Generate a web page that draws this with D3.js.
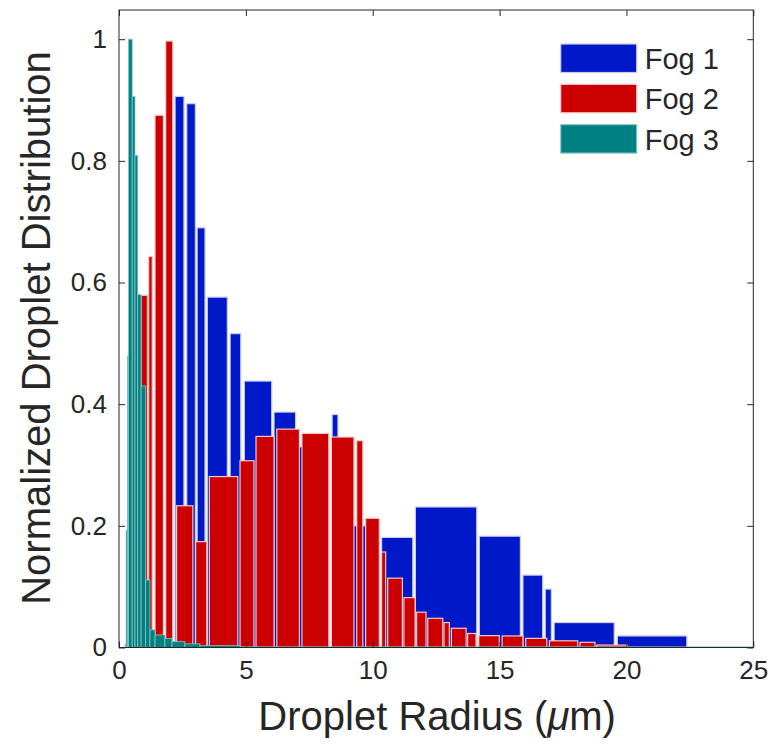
<!DOCTYPE html>
<html>
<head>
<meta charset="utf-8">
<script src="https://cdn.jsdelivr.net/npm/d3@7"></script>
<style>
  body { margin: 0; background: #fff; }
  text { font-family: "Liberation Sans", Arial, sans-serif; fill: #262626; }
</style>
</head>
<body>
<div id="hist_chart"></div>
<script>
// Bins for each fog: left edge, right edge, normalized value (um)
const fog1Lo  = [2.21, 2.67, 3.08, 3.48, 4.38, 4.94, 6.11, 7.06, 8.40, 8.74, 10.35, 11.68, 14.20, 15.92, 16.80, 17.15, 19.64];
const fog1Hi  = [2.56, 3.01, 3.39, 4.27, 4.80, 6.02, 6.96, 8.28, 8.63, 10.27, 11.58, 14.10, 15.82, 16.70, 17.04, 19.52, 22.38];
const fog1Val = [0.906, 0.894, 0.69, 0.576, 0.516, 0.438, 0.387, 0.33, 0.383, 0.2, 0.181, 0.231, 0.183, 0.119, 0.096, 0.041, 0.019];

const fog2Lo  = [0.87, 1.17, 1.42, 1.84, 2.27, 3.02, 3.56, 4.77, 5.40, 6.22, 7.21, 8.37, 9.37, 9.72, 10.35, 10.59, 11.23, 11.73, 12.17, 12.81, 13.10, 13.74, 14.18, 15.10, 16.03, 16.96, 18.17, 18.83];
const fog2Hi  = [1.12, 1.31, 1.75, 2.12, 2.91, 3.46, 4.68, 5.32, 6.11, 7.11, 8.27, 9.26, 9.61, 10.26, 10.51, 11.17, 11.67, 12.10, 12.76, 13.02, 13.68, 14.07, 14.99, 15.92, 16.86, 18.08, 18.76, 20.04];
const fog2Val = [0.579, 0.643, 0.875, 0.997, 0.233, 0.174, 0.281, 0.307, 0.347, 0.359, 0.352, 0.346, 0.34, 0.2125, 0.157, 0.114, 0.082, 0.058, 0.048, 0.041, 0.0316, 0.023, 0.0195, 0.019, 0.015, 0.011, 0.0085, 0.004];

const fog3Lo  = [0.24, 0.28, 0.33, 0.37, 0.52, 0.63, 0.74, 0.87, 1.05, 1.22, 1.42, 1.81, 2.09, 2.60, 3.19, 4.77];
const fog3Hi  = [0.28, 0.33, 0.37, 0.52, 0.63, 0.74, 0.87, 1.05, 1.22, 1.42, 1.81, 2.09, 2.60, 3.19, 4.77, 25];
const fog3Val = [0.005, 0.193, 0.479, 1.0, 0.906, 0.809, 0.58, 0.43, 0.111, 0.029, 0.0206, 0.015, 0.0095, 0.006, 0.003, 0.001];

const seriesNames = ["Fog 1", "Fog 2", "Fog 3"];
const xTicks = [0, 5, 10, 15, 20, 25];
const yTicks = [0, 0.2, 0.4, 0.6, 0.8, 1];

const fills = ["#0019c8", "#cc0000", "#008080"];
const edges = ["#c9cdf6", "#f6c9c9", "#8cc6c6"];

const width = 771, height = 747;
const margin = {top: 10, right: 17.7, bottom: 99.5, left: 119};
const w = width - margin.left - margin.right;
const h = height - margin.top - margin.bottom;

const svg = d3.select("#hist_chart")
    .append("svg")
    .attr("width", width)
    .attr("height", height)
    .append("g")
    .attr("transform", `translate(${margin.left},${margin.top})`);

const x = d3.scaleLinear().domain([0, 25]).range([0, w]);
const y = d3.scaleLinear().domain([0, 1.048]).range([h, 0]);

// Build bin rows from the arrays
function bins(lo, hi, val) {
    return lo.map((d, i) => ({lo: d, hi: hi[i], v: val[i]}));
}
const allSeries = [bins(fog1Lo, fog1Hi, fog1Val), bins(fog2Lo, fog2Hi, fog2Val), bins(fog3Lo, fog3Hi, fog3Val)];

// Draw the histograms, Fog 1 at the back
allSeries.forEach(function(data, k) {
    svg.append("g")
        .selectAll("rect")
        .data(data)
        .join("rect")
        .attr("x", d => x(d.lo))
        .attr("y", d => y(d.v))
        .attr("width", d => x(d.hi) - x(d.lo))
        .attr("height", d => y(0) - y(d.v))
        .attr("fill", fills[k])
        .attr("stroke", edges[k])
        .attr("stroke-width", k == 2 ? 0.8 : 1.2);
});

// Axes with ticks inside, mirrored on top and right
const tickLen = 6;
svg.append("g")
    .attr("transform", `translate(0,${h})`)
    .style("font-size", "26px")
    .call(d3.axisBottom(x).tickValues(xTicks).tickSize(-tickLen).tickPadding(13).tickFormat(d3.format("d")))
    .call(g => g.select(".domain").remove());
svg.append("g")
    .call(d3.axisTop(x).tickValues(xTicks).tickSize(-tickLen).tickFormat(""))
    .call(g => g.select(".domain").remove());
svg.append("g")
    .style("font-size", "26px")
    .call(d3.axisLeft(y).tickValues(yTicks).tickSize(-tickLen).tickPadding(12).tickFormat(d => d == 0 || d == 1 ? d : d3.format(".1f")(d)))
    .call(g => g.select(".domain").remove());
svg.append("g")
    .attr("transform", `translate(${w},0)`)
    .call(d3.axisRight(y).tickValues(yTicks).tickSize(-tickLen).tickFormat(""))
    .call(g => g.select(".domain").remove());

svg.selectAll(".tick line").attr("stroke", "#262626");
svg.selectAll(".tick text").attr("fill", "#262626").style("font-family", "Liberation Sans, Arial, sans-serif");

// Box around the plot
svg.append("rect")
    .attr("width", w)
    .attr("height", h)
    .attr("fill", "none")
    .attr("stroke", "#262626")
    .attr("stroke-width", 1);

// Axis labels
const xl = svg.append("text")
    .attr("text-anchor", "middle")
    .attr("x", w / 2 + 1)
    .attr("y", h + 82)
    .style("font-size", "40px");
xl.append("tspan").text("Droplet Radius (");
xl.append("tspan").style("font-style", "italic").text("\u03bc");
xl.append("tspan").text("m)");

svg.append("text")
    .attr("text-anchor", "middle")
    .attr("transform", "rotate(-90)")
    .attr("x", -318)
    .attr("y", -69)
    .style("font-size", "40px")
    .text("Normalized Droplet Distribution");

// Legend
const legend = svg.append("g").attr("transform", `translate(${560.7 - margin.left},${44 - margin.top})`);
seriesNames.forEach(function(name, i) {
    legend.append("rect")
        .attr("x", 0)
        .attr("y", i * 40.3)
        .attr("width", 76)
        .attr("height", 28.5)
        .attr("fill", fills[i])
        .attr("stroke", edges[i])
        .attr("stroke-width", 1.2);
    legend.append("text")
        .attr("x", 84)
        .attr("y", i * 40.3 + 25)
        .style("font-size", "29px")
        .text(name);
});
</script>
</body>
</html>
